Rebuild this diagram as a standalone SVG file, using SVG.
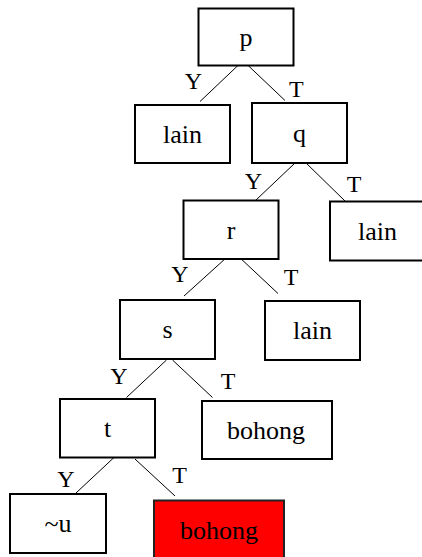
<svg xmlns="http://www.w3.org/2000/svg" width="422" height="557" viewBox="0 0 422 557">
<style>
.box{fill:#fff;stroke:#000;stroke-width:2}
.hit{fill:#ff0000;stroke:#222;stroke-width:2}
.lbl{font-family:"Liberation Serif","Times New Roman",serif;font-size:24px;fill:#000;text-anchor:middle}
.txt{font-family:"Liberation Serif","Times New Roman",serif;font-size:26px;fill:#000;text-anchor:middle}
.edge{stroke:#000;stroke-width:1;fill:none}
</style>
<rect width="422" height="557" fill="#fff"/>
<g id="connectors">
<line class="edge" x1="239.5" y1="64" x2="200" y2="101.5"/>
<line class="edge" x1="245.5" y1="63" x2="285" y2="100.5"/>
<line class="edge" x1="295" y1="163" x2="256" y2="200"/>
<line class="edge" x1="305" y1="162" x2="345" y2="201"/>
<line class="edge" x1="226" y1="258" x2="184" y2="296"/>
<line class="edge" x1="238" y1="256" x2="278" y2="293.5"/>
<line class="edge" x1="166.5" y1="360" x2="126.5" y2="397.5"/>
<line class="edge" x1="172.5" y1="360" x2="212.5" y2="397.5"/>
<line class="edge" x1="114.5" y1="457" x2="76" y2="493"/>
<line class="edge" x1="135" y1="459" x2="175" y2="496"/>
<text class="lbl" x="193.3" y="89.3">Y</text>
<text class="lbl" x="296.3" y="96.7">T</text>
<text class="lbl" x="253.3" y="189.3">Y</text>
<text class="lbl" x="354" y="191.7">T</text>
<text class="lbl" x="180" y="281.7">Y</text>
<text class="lbl" x="291" y="285">T</text>
<text class="lbl" x="119" y="384.3">Y</text>
<text class="lbl" x="228" y="389.3">T</text>
<text class="lbl" x="66" y="486.7">Y</text>
<text class="lbl" x="179.5" y="482.7">T</text>
</g>
<g id="p"><rect class="box" x="198.5" y="8.5" width="95" height="57"/><text class="txt" x="246" y="45.5">p</text></g>
<g id="lain1"><rect class="box" x="135" y="105" width="95" height="58"/><text class="txt" x="182.5" y="142.7">lain</text></g>
<g id="q"><rect class="box" x="252" y="103" width="95" height="60"/><text class="txt" x="299.5" y="141.5">q</text></g>
<g id="r"><rect class="box" x="183.5" y="200.5" width="95" height="58.5"/><text class="txt" x="231" y="238.5">r</text></g>
<g id="lain2"><rect class="box" x="330" y="201.5" width="95" height="59"/><text class="txt" x="377.5" y="239.5">lain</text></g>
<g id="s"><rect class="box" x="120" y="300" width="95" height="59"/><text class="txt" x="167.5" y="338">s</text></g>
<g id="lain3"><rect class="box" x="265" y="301" width="95" height="59"/><text class="txt" x="312.5" y="339">lain</text></g>
<g id="t"><rect class="box" x="60" y="399" width="95" height="58.5"/><text class="txt" x="107.5" y="436.5">t</text></g>
<g id="bohong1"><rect class="box" x="202" y="401" width="130" height="58"/><text class="txt" x="266" y="439">bohong</text></g>
<g id="notu"><rect class="box" x="10" y="494" width="96" height="59"/><text class="txt" x="58" y="532">~u</text></g>
<g id="bohong2"><rect class="hit" x="154" y="500.5" width="130" height="60"/><text class="txt" x="219" y="538.5">bohong</text></g>
</svg>
